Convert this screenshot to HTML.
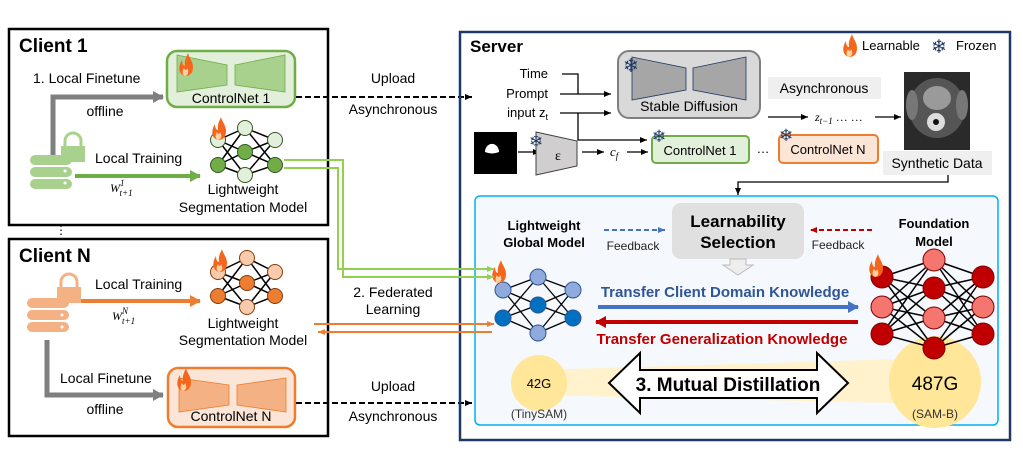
<!DOCTYPE html>
<html><head><meta charset="utf-8"><style>
html,body{margin:0;padding:0;background:#fff;}
svg{display:block;font-family:"Liberation Sans","DejaVu Sans",sans-serif;}
</style></head><body>
<svg width="1023" height="450" viewBox="0 0 1023 450" xmlns="http://www.w3.org/2000/svg">
<defs>
<marker id="ak" markerWidth="8" markerHeight="8" refX="7" refY="4" orient="auto" markerUnits="userSpaceOnUse"><path d="M0,1 L7,4 L0,7z" fill="#000"/></marker>
<marker id="ag" markerWidth="12" markerHeight="12" refX="10" refY="6" orient="auto" markerUnits="userSpaceOnUse"><path d="M0,0 L11,6 L0,12z" fill="#7f7f7f"/></marker>
<marker id="agr" markerWidth="12" markerHeight="12" refX="10" refY="6" orient="auto" markerUnits="userSpaceOnUse"><path d="M0,0 L11,6 L0,12z" fill="#70ad47"/></marker>
<marker id="aor" markerWidth="12" markerHeight="12" refX="10" refY="6" orient="auto" markerUnits="userSpaceOnUse"><path d="M0,0 L11,6 L0,12z" fill="#ed7d31"/></marker>
<marker id="aos" markerWidth="8" markerHeight="8" refX="7" refY="4" orient="auto" markerUnits="userSpaceOnUse"><path d="M0,1 L7,4 L0,7z" fill="#ed7d31"/></marker>
<marker id="alg" markerWidth="8" markerHeight="8" refX="7" refY="4" orient="auto" markerUnits="userSpaceOnUse"><path d="M0,1 L7,4 L0,7z" fill="#92d050"/></marker>
<marker id="ab" markerWidth="12" markerHeight="12" refX="10" refY="6" orient="auto" markerUnits="userSpaceOnUse"><path d="M0,0 L11,6 L0,12z" fill="#4472c4"/></marker>
<marker id="ar" markerWidth="12" markerHeight="12" refX="10" refY="6" orient="auto" markerUnits="userSpaceOnUse"><path d="M0,0 L11,6 L0,12z" fill="#c00000"/></marker>
<marker id="abs" markerWidth="8" markerHeight="8" refX="7" refY="4" orient="auto" markerUnits="userSpaceOnUse"><path d="M0,1 L7,4 L0,7z" fill="#4472c4"/></marker>
<marker id="ars" markerWidth="8" markerHeight="8" refX="7" refY="4" orient="auto" markerUnits="userSpaceOnUse"><path d="M0,1 L7,4 L0,7z" fill="#c00000"/></marker>
<g id="flame"><path d="M0,14 C-7,12 -7,4 -3,-2 C-3,3 -1,4 0,4 C-1,-2 2,-6 3,-9 C4,-4 8,-1 8,5 C8,11 5,14 0,14z" fill="#f4661b"/><path d="M0,14 C-3,13 -3,9 -1,6 C0,9 2,8 2,6 C4,9 4,13 0,14z" fill="#ffd0a0"/></g>
</defs>

<!-- Client 1 -->
<rect x="9" y="29" width="319" height="196" fill="#fff" stroke="#000" stroke-width="2.5"/>
<text x="19" y="52" font-size="19" font-weight="bold">Client 1</text>
<rect x="167" y="51" width="128" height="56" rx="10" fill="#e2efda" stroke="#70ad47" stroke-width="2.5"/>
<polygon points="177,55 227,65 227,85 177,92" fill="#a9d18e" stroke="#70ad47" stroke-width="0.8"/>
<polygon points="235,65 285,55 285,92 235,85" fill="#a9d18e" stroke="#70ad47" stroke-width="0.8"/>
<use href="#flame" x="185" y="62"/>
<text x="231" y="103" font-size="14" text-anchor="middle">ControlNet 1</text>
<text x="33" y="83" font-size="14">1. Local Finetune</text>
<path d="M53,157 V97 H163" fill="none" stroke="#7f7f7f" stroke-width="5" marker-end="url(#ag)"/>
<text x="105" y="116" font-size="14" text-anchor="middle">offline</text>
<g fill="#a9d18e"><rect x="30" y="155" width="42" height="10" rx="5"/><rect x="30" y="167" width="42" height="10" rx="5"/><rect x="30" y="179" width="42" height="10" rx="5"/></g>
<g fill="#fff"><circle cx="65" cy="171" r="1.5"/><circle cx="65" cy="183" r="1.5"/></g>
<path d="M65,146 v-5 a8,8 0 0 1 16,0 v5" fill="none" stroke="#a9d18e" stroke-width="3"/>
<rect x="61" y="146" width="24" height="16" fill="#a9d18e"/>
<text x="95" y="163" font-size="14">Local Training</text>
<line x1="75" y1="176" x2="200" y2="176" stroke="#70ad47" stroke-width="4" marker-end="url(#agr)"/>
<text x="110" y="192" font-size="12" font-style="italic" font-family="Liberation Serif">W<tspan font-size="9" dy="-6">1</tspan><tspan font-size="9" dx="-5" dy="10">t+1</tspan></text>
<g stroke="#000" stroke-width="1.5">
<path d="M218,140 L245,128 M218,140 L245,152 M218,140 L245,175 M218,165 L245,128 M218,165 L245,152 M218,165 L245,175 M245,128 L275,140 M245,128 L275,165 M245,152 L275,140 M245,152 L275,165 M245,175 L275,140 M245,175 L275,165"/>
</g>
<g stroke="#375623" stroke-width="1">
<circle cx="218" cy="140" r="7.5" fill="#e2efda"/><circle cx="218" cy="165" r="7.5" fill="#70ad47"/>
<circle cx="245" cy="128" r="7.5" fill="#e2efda"/><circle cx="245" cy="152" r="7.5" fill="#70ad47"/><circle cx="245" cy="175" r="7.5" fill="#e2efda"/>
<circle cx="275" cy="140" r="7.5" fill="#e2efda"/><circle cx="275" cy="165" r="7.5" fill="#70ad47"/>
</g>
<use href="#flame" x="218" y="126"/>
<text x="243" y="194" font-size="14" text-anchor="middle">Lightweight</text>
<text x="243" y="212" font-size="14" text-anchor="middle">Segmentation Model</text>

<text x="55" y="234" font-size="12">⋮</text>

<!-- Client N -->
<rect x="9" y="239" width="319" height="197" fill="#fff" stroke="#000" stroke-width="2.5"/>
<text x="19" y="262" font-size="19" font-weight="bold">Client N</text>
<g fill="#f4b183"><rect x="27" y="298" width="42" height="10" rx="5"/><rect x="27" y="310" width="42" height="10" rx="5"/><rect x="27" y="322" width="42" height="10" rx="5"/></g>
<g fill="#fff"><circle cx="62" cy="315" r="1.5"/><circle cx="62" cy="327" r="1.5"/></g>
<path d="M61,287 v-5 a8,8 0 0 1 16,0 v5" fill="none" stroke="#f4b183" stroke-width="3"/>
<rect x="57" y="287" width="24" height="16" fill="#f4b183"/>
<text x="95" y="289" font-size="14">Local Training</text>
<line x1="81" y1="301" x2="200" y2="301" stroke="#ed7d31" stroke-width="4" marker-end="url(#aor)"/>
<text x="112" y="320" font-size="12" font-style="italic" font-family="Liberation Serif">W<tspan font-size="9" dy="-6">N</tspan><tspan font-size="9" dx="-6" dy="10">t+1</tspan></text>
<g stroke="#000" stroke-width="1.5">
<path d="M218,272 L247,258 M218,272 L247,283 M218,272 L247,307 M218,296 L247,258 M218,296 L247,283 M218,296 L247,307 M247,258 L275,272 M247,258 L275,296 M247,283 L275,272 M247,283 L275,296 M247,307 L275,272 M247,307 L275,296"/>
</g>
<g stroke="#843c0c" stroke-width="1">
<circle cx="218" cy="272" r="7.5" fill="#f8cbad"/><circle cx="218" cy="296" r="7.5" fill="#ed7d31"/>
<circle cx="247" cy="258" r="7.5" fill="#f8cbad"/><circle cx="247" cy="283" r="7.5" fill="#ed7d31"/><circle cx="247" cy="307" r="7.5" fill="#f8cbad"/>
<circle cx="275" cy="272" r="7.5" fill="#f8cbad"/><circle cx="275" cy="296" r="7.5" fill="#ed7d31"/>
</g>
<use href="#flame" x="219" y="258"/>
<text x="243" y="328" font-size="14" text-anchor="middle">Lightweight</text>
<text x="243" y="345" font-size="14" text-anchor="middle">Segmentation Model</text>
<path d="M47,340 V395 H163" fill="none" stroke="#7f7f7f" stroke-width="5" marker-end="url(#ag)"/>
<text x="60" y="383" font-size="14">Local Finetune</text>
<text x="105" y="414" font-size="14" text-anchor="middle">offline</text>
<rect x="168" y="368" width="127" height="59" rx="10" fill="#fbe5d6" stroke="#ed7d31" stroke-width="2.5"/>
<polygon points="179,378 229,385 229,405 179,412" fill="#f4b183" stroke="#ed7d31" stroke-width="0.8"/>
<polygon points="237,385 286,378 286,412 237,405" fill="#f4b183" stroke="#ed7d31" stroke-width="0.8"/>
<use href="#flame" x="183" y="377"/>
<text x="231" y="421" font-size="14" text-anchor="middle">ControlNet N</text>

<!-- Upload connectors -->
<line x1="296" y1="97" x2="472" y2="97" stroke="#000" stroke-width="2" stroke-dasharray="6,3" marker-end="url(#ak)"/>
<text x="393" y="83" font-size="14" text-anchor="middle">Upload</text>
<text x="393" y="114" font-size="14" text-anchor="middle">Asynchronous</text>
<line x1="296" y1="403" x2="472" y2="403" stroke="#000" stroke-width="2" stroke-dasharray="6,3" marker-end="url(#ak)"/>
<text x="393" y="391" font-size="14" text-anchor="middle">Upload</text>
<text x="393" y="421" font-size="14" text-anchor="middle">Asynchronous</text>
<text x="393" y="297" font-size="14" text-anchor="middle">2. Federated</text>
<text x="393" y="314" font-size="14" text-anchor="middle">Learning</text>

<!-- Server -->
<rect x="460" y="32" width="550" height="408" fill="none" stroke="#1f3864" stroke-width="2.5"/>
<text x="470" y="52" font-size="17" font-weight="bold">Server</text>
<use href="#flame" x="849" y="43"/>
<text x="862" y="50" font-size="13">Learnable</text>
<text x="931" y="53" font-size="19" fill="#1f3864" font-family="DejaVu Sans" font-weight="bold">❄</text>
<text x="956" y="50" font-size="13">Frozen</text>

<text x="548" y="78" font-size="13" text-anchor="end">Time</text>
<text x="548" y="98" font-size="13" text-anchor="end">Prompt</text>
<text x="548" y="117" font-size="13" text-anchor="end">input z<tspan font-size="9" dy="3">t</tspan></text>
<path d="M562,74 H578 V94" fill="none" stroke="#000" stroke-width="1.3"/>
<line x1="560" y1="94" x2="611" y2="94" stroke="#000" stroke-width="1.3" marker-end="url(#ak)"/>
<line x1="560" y1="113" x2="611" y2="113" stroke="#000" stroke-width="1.3" marker-end="url(#ak)"/>
<path d="M578,113 V140 H647" fill="none" stroke="#000" stroke-width="1.3" marker-end="url(#ak)"/>

<rect x="618" y="51" width="142" height="67" rx="11" fill="#d9d9d9" stroke="#7f7f7f" stroke-width="2"/>
<polygon points="632,57 686,68 686,90 632,100" fill="#a6a6a6" stroke="#1f3864" stroke-width="0.8"/>
<polygon points="693,68 746,57 746,100 693,90" fill="#a6a6a6" stroke="#1f3864" stroke-width="0.8"/>
<text x="623" y="72" font-size="19" fill="#1f3864" font-family="DejaVu Sans" font-weight="bold">❄</text>
<text x="689" y="111" font-size="14" text-anchor="middle">Stable Diffusion</text>

<rect x="768" y="77" width="113" height="22" fill="#efefef"/>
<text x="824" y="93" font-size="14" text-anchor="middle">Asynchronous</text>
<line x1="768" y1="117" x2="808" y2="117" stroke="#000" stroke-width="1.3" marker-end="url(#ak)"/>
<text x="815" y="121" font-size="12" font-style="italic" font-family="Liberation Serif">z<tspan font-size="9" dy="3">t−1</tspan><tspan dy="-3" font-style="normal"> … …</tspan></text>
<line x1="875" y1="117" x2="901" y2="117" stroke="#000" stroke-width="1.3" marker-end="url(#ak)"/>
<rect x="904" y="72" width="66" height="78" fill="#2a2a2a"/>
<ellipse cx="937" cy="108" rx="28" ry="30" fill="#555"/>
<ellipse cx="937" cy="98" rx="14" ry="12" fill="#9a9a9a"/>
<circle cx="936" cy="122" r="9" fill="#ddd"/><circle cx="936" cy="122" r="3" fill="#111"/>
<ellipse cx="912" cy="105" rx="6" ry="15" fill="#777"/><ellipse cx="962" cy="105" rx="6" ry="15" fill="#777"/>
<rect x="883" y="151" width="109" height="24" fill="#efefef"/>
<text x="937" y="168" font-size="14" text-anchor="middle">Synthetic Data</text>
<path d="M948,175 V182 H738 V195" fill="none" stroke="#000" stroke-width="1.3" marker-end="url(#ak)"/>

<rect x="474" y="132" width="43" height="42" fill="#000"/>
<path d="M485,152 a6,7 0 1 1 14,0 q-7,3 -14,0z" fill="#fff"/>
<line x1="518" y1="152" x2="540" y2="152" stroke="#000" stroke-width="1.3" marker-end="url(#ak)"/>
<polygon points="536,132 577,141 577,166 536,175" fill="#d0cece" stroke="#404040" stroke-width="1"/>
<text x="529" y="147" font-size="17" fill="#1f3864" font-family="DejaVu Sans" font-weight="bold">❄</text>
<text x="558" y="160" font-size="14" text-anchor="middle" font-family="Liberation Serif">ε</text>
<line x1="582" y1="152" x2="604" y2="152" stroke="#000" stroke-width="1.3" marker-end="url(#ak)"/>
<text x="610" y="156" font-size="13" font-style="italic" font-family="Liberation Serif">c<tspan font-size="9" dy="3">f</tspan></text>
<line x1="627" y1="152" x2="648" y2="152" stroke="#000" stroke-width="1.3" marker-end="url(#ak)"/>
<rect x="652" y="136" width="97" height="27" rx="4" fill="#e2efda" stroke="#70ad47" stroke-width="2"/>
<text x="700" y="155" font-size="13" text-anchor="middle">ControlNet 1</text>
<text x="652" y="142" font-size="17" fill="#1f3864" font-family="DejaVu Sans" font-weight="bold">❄</text>
<text x="763" y="153" font-size="13" text-anchor="middle">…</text>
<rect x="779" y="135" width="99" height="28" rx="4" fill="#fbe5d6" stroke="#ed7d31" stroke-width="2"/>
<text x="828" y="154" font-size="13" text-anchor="middle">ControlNet N</text>
<text x="779" y="141" font-size="17" fill="#1f3864" font-family="DejaVu Sans" font-weight="bold">❄</text>

<!-- inner box -->
<rect x="475" y="196" width="523" height="229" rx="5" fill="#f5f8fc" stroke="#00b0f0" stroke-width="1.5"/>
<rect x="672" y="203" width="132" height="56" rx="9" fill="#e0e0e0"/>
<text x="738" y="227" font-size="17" font-weight="bold" text-anchor="middle">Learnability</text>
<text x="738" y="248" font-size="17" font-weight="bold" text-anchor="middle">Selection</text>
<polygon points="730,259 746,259 746,265 753,265 738,275 723,265 730,265" fill="#eee" stroke="#bbb" stroke-width="1"/>
<text x="544" y="230" font-size="13" font-weight="bold" text-anchor="middle">Lightweight</text>
<text x="544" y="247" font-size="13" font-weight="bold" text-anchor="middle">Global Model</text>
<line x1="604" y1="230" x2="665" y2="230" stroke="#4472c4" stroke-width="2" stroke-dasharray="5,3" marker-end="url(#abs)"/>
<text x="633" y="250" font-size="12" text-anchor="middle" fill="#222">Feedback</text>
<line x1="872" y1="230" x2="810" y2="230" stroke="#c00000" stroke-width="2" stroke-dasharray="5,3" marker-end="url(#ars)"/>
<text x="838" y="249" font-size="12" text-anchor="middle" fill="#222">Feedback</text>
<text x="934" y="228" font-size="13" font-weight="bold" text-anchor="middle">Foundation</text>
<text x="934" y="246" font-size="13" font-weight="bold" text-anchor="middle">Model</text>

<path d="M539,370 L935,358 L935,404 L539,395z" fill="#fff2cc"/>
<circle cx="539" cy="383" r="28" fill="#ffe699"/>
<circle cx="935" cy="382" r="46" fill="#ffe699"/>
<text x="539" y="388" font-size="13" text-anchor="middle">42G</text>
<text x="539" y="418" font-size="12" text-anchor="middle" fill="#333">(TinySAM)</text>
<text x="935" y="390" font-size="19" text-anchor="middle">487G</text>
<text x="935" y="418" font-size="12" text-anchor="middle" fill="#333">(SAM-B)</text>
<polygon points="609,383 640,353 640,370 817,370 817,353 848,383 817,413 817,398 640,398 640,413" fill="#fff" stroke="#000" stroke-width="2"/>
<text x="728" y="391" font-size="19" font-weight="bold" text-anchor="middle">3. Mutual Distillation</text>

<g stroke="#000" stroke-width="1.3">
<path d="M503,290 L538,277 M503,290 L538,305 M503,290 L538,333 M503,318 L538,277 M503,318 L538,305 M503,318 L538,333 M538,277 L573,290 M538,277 L573,318 M538,305 L573,290 M538,305 L573,318 M538,333 L573,290 M538,333 L573,318"/>
</g>
<g stroke="#2f5597" stroke-width="1">
<circle cx="503" cy="290" r="8" fill="#8faadc"/><circle cx="503" cy="318" r="8" fill="#0070c0"/>
<circle cx="538" cy="277" r="8" fill="#8faadc"/><circle cx="538" cy="305" r="8" fill="#0070c0"/><circle cx="538" cy="333" r="8" fill="#8faadc"/>
<circle cx="573" cy="290" r="8" fill="#8faadc"/><circle cx="573" cy="318" r="8" fill="#0070c0"/>
</g>
<use href="#flame" x="498" y="269"/>

<g stroke="#000" stroke-width="1.5">
<path d="M882,277 L934,260 M882,277 L934,288 M882,277 L934,318 M882,277 L934,348 M882,307 L934,260 M882,307 L934,288 M882,307 L934,318 M882,307 L934,348 M882,334 L934,260 M882,334 L934,288 M882,334 L934,318 M882,334 L934,348 M934,260 L983,277 M934,260 L983,307 M934,260 L983,334 M934,288 L983,277 M934,288 L983,307 M934,288 L983,334 M934,318 L983,277 M934,318 L983,307 M934,318 L983,334 M934,348 L983,277 M934,348 L983,307 M934,348 L983,334"/>
</g>
<g stroke="#7f0000" stroke-width="1">
<circle cx="882" cy="277" r="11" fill="#c00000"/><circle cx="882" cy="307" r="11" fill="#f4766f"/><circle cx="882" cy="334" r="11" fill="#c00000"/>
<circle cx="934" cy="260" r="11" fill="#f4766f"/><circle cx="934" cy="288" r="11" fill="#c00000"/><circle cx="934" cy="318" r="11" fill="#f4766f"/><circle cx="934" cy="348" r="11" fill="#c00000"/>
<circle cx="983" cy="277" r="11" fill="#c00000"/><circle cx="983" cy="307" r="11" fill="#f4766f"/><circle cx="983" cy="334" r="11" fill="#c00000"/>
</g>
<use href="#flame" x="875" y="263"/>

<text x="725" y="297" font-size="15" font-weight="bold" fill="#2f5597" text-anchor="middle">Transfer Client Domain Knowledge</text>
<line x1="598" y1="307" x2="858" y2="307" stroke="#4472c4" stroke-width="4" marker-end="url(#ab)"/>
<line x1="858" y1="322" x2="596" y2="322" stroke="#c00000" stroke-width="4" marker-end="url(#ar)"/>
<text x="722" y="344" font-size="15" font-weight="bold" fill="#c00000" text-anchor="middle">Transfer Generalization Knowledge</text>

<path d="M284,160 H343 V277 H494" fill="none" stroke="#92d050" stroke-width="2" marker-end="url(#alg)"/>
<path d="M284,168 H338 V269 H494" fill="none" stroke="#92d050" stroke-width="2" marker-end="url(#alg)"/>
<line x1="314" y1="324" x2="494" y2="324" stroke="#ed7d31" stroke-width="2" marker-end="url(#aos)"/>
<line x1="492" y1="332" x2="318" y2="332" stroke="#ed7d31" stroke-width="2" marker-end="url(#aos)"/>
</svg>
</body></html>
